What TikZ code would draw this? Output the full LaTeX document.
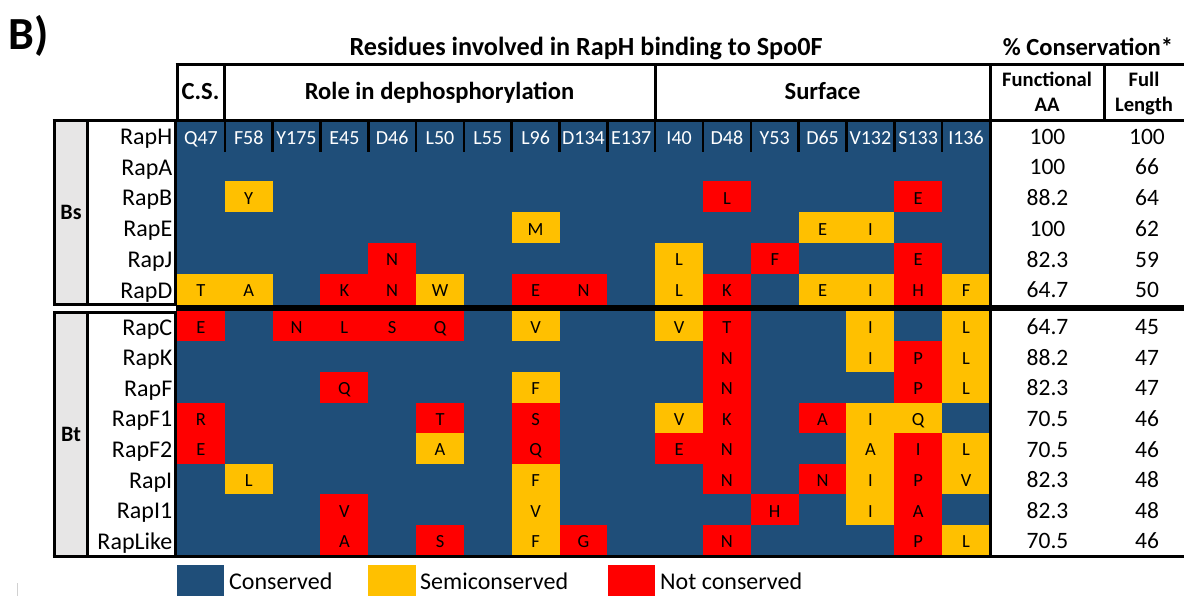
\documentclass[tikz,border=0pt]{standalone}
\usepackage{fontspec}
\setmainfont{Carlito}
\definecolor{cblue}{HTML}{1F4E79}
\definecolor{cyel}{HTML}{FFC000}
\definecolor{cred}{HTML}{FF0000}
\definecolor{cgray}{HTML}{E7E6E6}
\tikzset{
  rowlab/.style={anchor=base east, inner sep=0pt, font=\fontsize{24}{28}\selectfont},
  collab/.style={anchor=base, inner sep=0pt, text=white, font=\fontsize{20}{24}\selectfont},
  lett/.style={anchor=base, inner sep=0pt, font=\fontsize{18.5}{22}\selectfont},
  numlab/.style={anchor=base, inner sep=0pt, font=\fontsize{23.5}{28}\selectfont},
  hdr/.style={anchor=base, inner sep=0pt, font=\bfseries\fontsize{24.6}{28}\selectfont},
  hdrs/.style={anchor=base, inner sep=0pt, font=\bfseries\fontsize{20.6}{24}\selectfont},
  grp/.style={anchor=center, inner sep=0pt, font=\bfseries\fontsize{22}{26}\selectfont},
  legtxt/.style={anchor=base west, inner sep=0pt, font=\fontsize{24}{28}\selectfont},
  bord/.style={line width=3pt, black},
  sep/.style={line width=2.5pt, black},
}
\begin{document}
\begin{tikzpicture}[x=1pt,y=-1pt]
\useasboundingbox (0,0) rectangle (1184,596);
% panel letter and titles
\node[anchor=base west, inner sep=0pt, font=\bfseries\fontsize{46}{50}\selectfont] (panel) at (8,50) {B)};
\node[anchor=base, inner sep=0pt, font=\bfseries\fontsize{26.2}{30}\selectfont] (title) at (586,56) {Residues involved in RapH binding to Spo0F};
\node[anchor=base, inner sep=0pt, font=\bfseries\fontsize{24.6}{28}\selectfont] (cons) at (1088,56) {\% Conservation*};
% header labels
\node[hdr] (hcs) at (200.5,100) {C.S.};
\node[hdr] (hrole) at (439.5,100) {Role in dephosphorylation};
\node[hdr] (hsurf) at (822.5,100) {Surface};
\node[hdrs] (hfa1) at (1047,87) {Functional};
\node[hdrs] (hfa2) at (1047,112) {AA};
\node[hdrs] (hfl1) at (1144,87) {Full};
\node[hdrs] (hfl2) at (1144,112) {Length};
% group gray boxes
\fill[cgray] (54,120) rectangle (87.5,304);
\fill[cgray] (54,312.5) rectangle (87.5,556);
\node[grp] (bs) at (71,212) {Bs};
\node[grp] (bt) at (71,434) {Bt};
% data background
\fill[cblue] (177,120) rectangle (990,305);
\fill[cblue] (177,310.7) rectangle (990,556);
% non-conserved / semiconserved cells: row/col/colour/letter
\foreach \r/\c/\k/\t in {
 2/1/cyel/Y, 2/11/cred/L, 2/15/cred/E,
 3/7/cyel/M, 3/13/cyel/E, 3/14/cyel/I,
 4/4/cred/N, 4/10/cyel/L, 4/12/cred/F, 4/15/cred/E,
 5/0/cyel/T, 5/1/cyel/A, 5/3/cred/K, 5/4/cred/N, 5/5/cyel/W, 5/7/cred/E, 5/8/cred/N, 5/10/cyel/L, 5/11/cred/K, 5/13/cyel/E, 5/14/cyel/I, 5/15/cred/H, 5/16/cyel/F,
 6/0/cred/E, 6/2/cred/N, 6/3/cred/L, 6/4/cred/S, 6/5/cred/Q, 6/7/cyel/V, 6/10/cyel/V, 6/11/cred/T, 6/14/cyel/I, 6/16/cyel/L,
 7/11/cred/N, 7/14/cyel/I, 7/15/cred/P, 7/16/cyel/L,
 8/3/cred/Q, 8/7/cyel/F, 8/11/cred/N, 8/15/cred/P, 8/16/cyel/L,
 9/0/cred/R, 9/5/cred/T, 9/7/cred/S, 9/10/cyel/V, 9/11/cred/K, 9/13/cred/A, 9/14/cyel/I, 9/15/cyel/Q,
 10/0/cred/E, 10/5/cyel/A, 10/7/cred/Q, 10/10/cred/E, 10/11/cred/N, 10/14/cyel/A, 10/15/cred/I, 10/16/cyel/L,
 11/1/cyel/L, 11/7/cyel/F, 11/11/cred/N, 11/13/cred/N, 11/14/cyel/I, 11/15/cred/P, 11/16/cyel/V,
 12/3/cred/V, 12/7/cyel/V, 12/12/cred/H, 12/14/cyel/I, 12/15/cred/A,
 13/3/cred/A, 13/5/cred/S, 13/7/cyel/F, 13/8/cred/G, 13/11/cred/N, 13/15/cred/P, 13/16/cyel/L}{
  \pgfmathsetmacro\xa{177+47.82*\c}
  \pgfmathsetmacro\ya{\r<6 ? 120+30.75*\r : 310.7+30.6*(\r-6)}
  \pgfmathsetmacro\hh{\r<6 ? 30.75 : 30.6}
  \fill[\k] (\xa,\ya) rectangle ++(47.82,\hh);
  \node[lett] (t\r-\c) at (\xa+23.91,\ya+\hh/2+7.5) {\t};
}
% column labels in RapH row
\foreach \c/\t in {0/Q47,1/F58,2/Y175,3/E45,4/D46,5/L50,6/L55,7/L96,8/D134,9/E137,10/I40,11/D48,12/Y53,13/D65,14/V132,15/S133,16/I136}{
  \node[collab] (col\c) at (177+47.82*\c+23.91,144.5) {\t};
}
% row labels
\foreach \r/\t in {0/RapH,1/RapA,2/RapB,3/RapE,4/RapJ,5/RapD,6/RapC,7/RapK,8/RapF,9/RapF1,10/RapF2,11/RapI,12/RapI1,13/RapLike}{
  \pgfmathsetmacro\ya{\r<6 ? 120+30.75*\r : 310.7+30.6*(\r-6)}
  \pgfmathsetmacro\hh{\r<6 ? 30.75 : 30.6}
  \node[rowlab] (row\r) at (172.5,\ya+\hh/2+9) {\t};
}
% conservation numbers
\foreach \r/\a/\b in {0/100/100,1/100/66,2/88.2/64,3/100/62,4/82.3/59,5/64.7/50,6/64.7/45,7/88.2/47,8/82.3/47,9/70.5/46,10/70.5/46,11/82.3/48,12/82.3/48,13/70.5/46}{
  \pgfmathsetmacro\ya{\r<6 ? 120+30.75*\r : 310.7+30.6*(\r-6)}
  \pgfmathsetmacro\hh{\r<6 ? 30.75 : 30.6}
  \node[numlab] (fa\r) at (1047.5,\ya+\hh/2+8.7) {\a};
  \node[numlab] (fl\r) at (1147,\ya+\hh/2+8.7) {\b};
}
% separators in RapH row
\foreach \c in {1,...,16}{
  \draw[sep] (177+47.82*\c,120) -- (177+47.82*\c,152.5);
}
% borders
\draw[bord] (175.5,65) -- (1184,65);
\draw[bord] (177,65) -- (177,120);
\draw[bord] (224.8,65) -- (224.8,120);
\draw[bord] (655.4,65) -- (655.4,120);
\draw[bord] (1104,65) -- (1104,120);
\draw[bord] (990.5,65) -- (990.5,557.5);
\draw[bord] (52.5,120.5) -- (1184,120.5);
\draw[bord] (54,120.5) rectangle (175.8,304);
\draw[bord] (87.3,120.5) -- (87.3,304);
\draw[bord] (54,312.5) rectangle (175.8,556.5);
\draw[bord] (87.3,312.5) -- (87.3,556.5);
\fill[black] (175.8,305) rectangle (1184,311);
\draw[bord] (52.5,556.5) -- (1184,556.5);
% legend
\fill[cblue] (177,565) rectangle (224,597);
\node[legtxt] (lc) at (229,589) {Conserved};
\fill[cyel] (368,565) rectangle (416,597);
\node[legtxt] (ls) at (420,589) {Semiconserved};
\fill[cred] (607.5,565) rectangle (655,597);
\node[legtxt] (ln) at (660,589) {Not conserved};
% stray mark at bottom left
\draw[line width=1.3pt, black!18] (17.5,583) -- (17.5,596);
\end{tikzpicture}
\end{document}
